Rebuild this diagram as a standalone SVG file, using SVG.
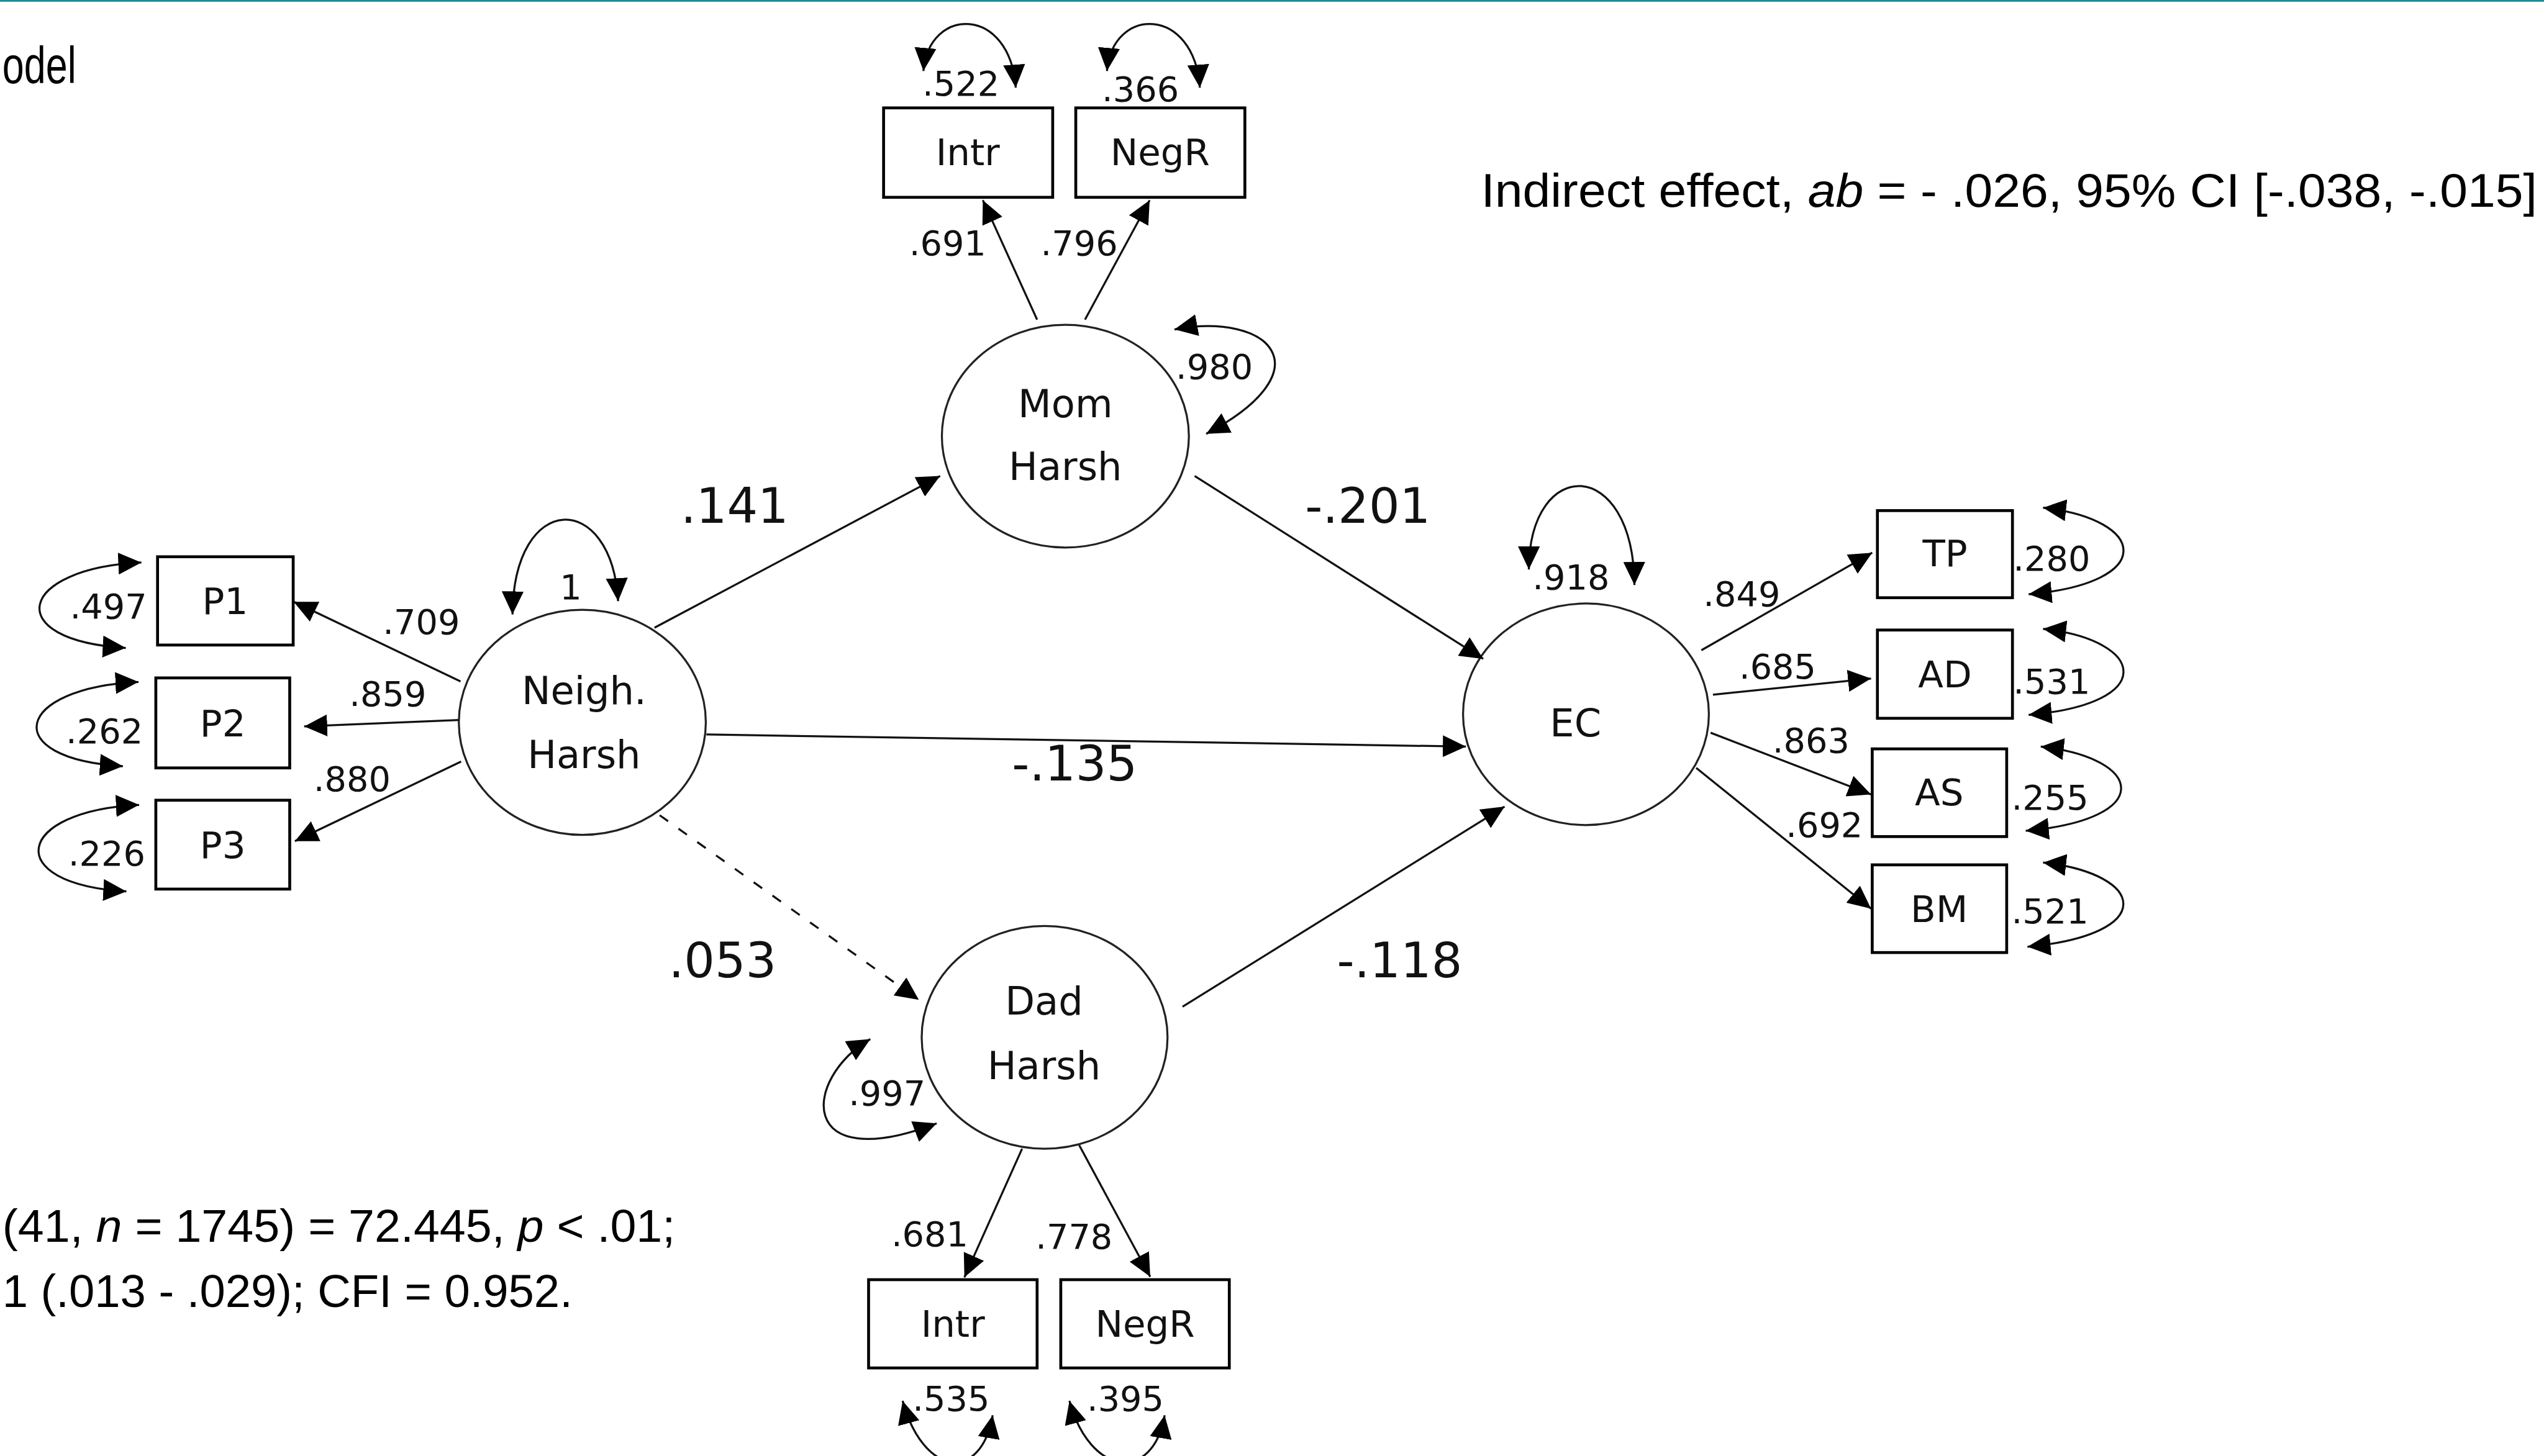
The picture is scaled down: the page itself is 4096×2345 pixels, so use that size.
<svg xmlns="http://www.w3.org/2000/svg" width="4096" height="2345" viewBox="0 0 4096 2345">
<defs>
<style>
.box{fill:#fff;stroke:#000;stroke-width:5}
.lat{fill:#fff;stroke:#222;stroke-width:3.5}
.e{fill:none;stroke:#111;stroke-width:3.5;marker-end:url(#ah)}
.loop{fill:none;stroke:#111;stroke-width:3.5;marker-start:url(#ah);marker-end:url(#ah)}
.dash{stroke-dasharray:18 22}
.t{font-family:'DejaVu Sans',Verdana,sans-serif;fill:#111;text-anchor:middle}
.nm{font-size:67px}
.bx{font-size:64px}
.sm{font-size:60px}
.bg{font-size:84px}
.cal{font-family:'Liberation Sans Narrow','Liberation Sans',Arial,sans-serif;fill:#000}
</style>
<marker id="ah" viewBox="0 0 40 38" refX="40" refY="19" markerWidth="40" markerHeight="38" markerUnits="userSpaceOnUse" orient="auto-start-reverse"><path d="M0,0 L40,19 L0,38 z" fill="#000"/></marker>
</defs>
<rect x="0" y="0" width="4096" height="2345" fill="#fff"/>
<g transform="scale(0.92922)">
<rect x="0" y="0" width="4408" height="3" fill="#1a8c90"/>

<g id="notes">
<text class="cal" x="4" y="144" font-size="90" textLength="128" lengthAdjust="spacingAndGlyphs">odel</text>
<text class="cal" x="2566" y="358" font-size="82" textLength="1830" lengthAdjust="spacingAndGlyphs">Indirect effect, <tspan font-style="italic">ab</tspan> = - .026, 95% CI [-.038, -.015]</text>
<text class="cal" x="4" y="2152" font-size="80" textLength="1166" lengthAdjust="spacingAndGlyphs">(41, <tspan font-style="italic">n</tspan> = 1745) = 72.445, <tspan font-style="italic">p</tspan> &lt; .01;</text>
<text class="cal" x="4" y="2265" font-size="80" textLength="988" lengthAdjust="spacingAndGlyphs">1 (.013 - .029); CFI = 0.952.</text>
</g>

<g id="node-neigh">
<ellipse class="lat" cx="1009" cy="1252" rx="214" ry="195"/>
<text class="t nm" x="1012" y="1220">Neigh.</text>
<text class="t nm" x="1012" y="1331">Harsh</text>
</g>
<g id="node-mom">
<ellipse class="lat" cx="1846" cy="756" rx="214" ry="193"/>
<text class="t nm" x="1846" y="723">Mom</text>
<text class="t nm" x="1846" y="832">Harsh</text>
</g>
<g id="node-dad">
<ellipse class="lat" cx="1810" cy="1798" rx="213" ry="193"/>
<text class="t nm" x="1809" y="1758">Dad</text>
<text class="t nm" x="1809" y="1870">Harsh</text>
</g>
<g id="node-ec">
<ellipse class="lat" cx="2748" cy="1238" rx="213" ry="192"/>
<text class="t nm" x="2730" y="1276">EC</text>
</g>

<g id="node-p1"><rect class="box" x="273" y="965" width="235" height="153"/><text class="t bx" x="390" y="1064">P1</text></g>
<g id="node-p2"><rect class="box" x="270" y="1175" width="232" height="156"/><text class="t bx" x="386" y="1276">P2</text></g>
<g id="node-p3"><rect class="box" x="270" y="1387" width="232" height="154"/><text class="t bx" x="386" y="1487">P3</text></g>

<g id="node-mom-intr"><rect class="box" x="1531" y="187" width="293" height="155"/><text class="t bx" x="1677" y="286">Intr</text></g>
<g id="node-mom-negr"><rect class="box" x="1864" y="187" width="293" height="155"/><text class="t bx" x="2010" y="286">NegR</text></g>

<g id="node-dad-intr"><rect class="box" x="1505" y="2218" width="292" height="153"/><text class="t bx" x="1651" y="2317">Intr</text></g>
<g id="node-dad-negr"><rect class="box" x="1838" y="2218" width="292" height="153"/><text class="t bx" x="1984" y="2317">NegR</text></g>

<g id="node-tp"><rect class="box" x="3253" y="885" width="234" height="151"/><text class="t bx" x="3370" y="982">TP</text></g>
<g id="node-ad"><rect class="box" x="3253" y="1092" width="234" height="153"/><text class="t bx" x="3370" y="1191">AD</text></g>
<g id="node-as"><rect class="box" x="3244" y="1298" width="233" height="152"/><text class="t bx" x="3360" y="1396">AS</text></g>
<g id="node-bm"><rect class="box" x="3244" y="1499" width="233" height="152"/><text class="t bx" x="3360" y="1598">BM</text></g>

<g id="connectors">
<path class="e" d="M1134 1088 L1629 825"/>
<path class="e" d="M2070 825 L2570 1142"/>
<path class="e" d="M1224 1273 L2540 1294"/>
<path class="e dash" d="M1143 1413 L1592 1733"/>
<path class="e" d="M2049 1745 L2607 1398"/>
<path class="e" d="M798 1181 L509 1043"/>
<path class="e" d="M795 1248 L527 1259"/>
<path class="e" d="M799 1320 L511 1458"/>
<path class="e" d="M1797 554 L1703 347"/>
<path class="e" d="M1880 554 L1992 347"/>
<path class="e" d="M1771 1991 L1671 2214"/>
<path class="e" d="M1870 1985 L1993 2213"/>
<path class="e" d="M2948 1127 L3244 958"/>
<path class="e" d="M2968 1204 L3242 1176"/>
<path class="e" d="M2964 1270 L3242 1377"/>
<path class="e" d="M2939 1331 L3242 1575"/>
<path class="loop" d="M888 1065 C890 850 1060 850 1071 1042"/>
<path class="loop" d="M2035 571 C2200 540 2300 640 2090 752"/>
<path class="loop" d="M1508 1801 C1390 1870 1380 2040 1623 1947"/>
<path class="loop" d="M2649 987 C2650 790 2830 790 2832 1014"/>
<path class="loop" d="M245 975 C30 985 0 1110 218 1123"/>
<path class="loop" d="M240 1182 C25 1192 -5 1315 213 1328"/>
<path class="loop" d="M241 1395 C26 1405 0 1532 219 1545"/>
<path class="loop" d="M1600 123 C1610 10 1750 10 1760 152"/>
<path class="loop" d="M1918 123 C1928 10 2069 10 2079 152"/>
<path class="loop" d="M1564 2428 C1600 2560 1700 2570 1720 2453"/>
<path class="loop" d="M1853 2428 C1889 2560 1998 2570 2018 2453"/>
<path class="loop" d="M3540 880 C3720 900 3740 1010 3515 1030"/>
<path class="loop" d="M3540 1090 C3720 1110 3740 1220 3515 1239"/>
<path class="loop" d="M3536 1294 C3716 1314 3736 1420 3510 1440"/>
<path class="loop" d="M3540 1495 C3720 1515 3740 1620 3513 1641"/>
<text class="t bg" x="1273" y="906">.141</text>
<text class="t bg" x="2370" y="906">-.201</text>
<text class="t bg" x="1862" y="1353">-.135</text>
<text class="t bg" x="1252" y="1694">.053</text>
<text class="t bg" x="2425" y="1694">-.118</text>
<text class="t sm" x="730" y="1099">.709</text>
<text class="t sm" x="672" y="1224">.859</text>
<text class="t sm" x="610" y="1371">.880</text>
<text class="t sm" x="989" y="1038">1</text>
<text class="t sm" x="188" y="1072">.497</text>
<text class="t sm" x="181" y="1288">.262</text>
<text class="t sm" x="185" y="1500">.226</text>
<text class="t sm" x="1665" y="166">.522</text>
<text class="t sm" x="1976" y="175">.366</text>
<text class="t sm" x="1642" y="442">.691</text>
<text class="t sm" x="1870" y="442">.796</text>
<text class="t sm" x="2104" y="657">.980</text>
<text class="t sm" x="1537" y="1916">.997</text>
<text class="t sm" x="1611" y="2160">.681</text>
<text class="t sm" x="1861" y="2164">.778</text>
<text class="t sm" x="1648" y="2445">.535</text>
<text class="t sm" x="1950" y="2445">.395</text>
<text class="t sm" x="2722" y="1021">.918</text>
<text class="t sm" x="3018" y="1050">.849</text>
<text class="t sm" x="3080" y="1176">.685</text>
<text class="t sm" x="3138" y="1304">.863</text>
<text class="t sm" x="3161" y="1451">.692</text>
<text class="t sm" x="3555" y="989">.280</text>
<text class="t sm" x="3555" y="1202">.531</text>
<text class="t sm" x="3552" y="1403">.255</text>
<text class="t sm" x="3552" y="1600">.521</text>
</g>
</g>
</svg>
